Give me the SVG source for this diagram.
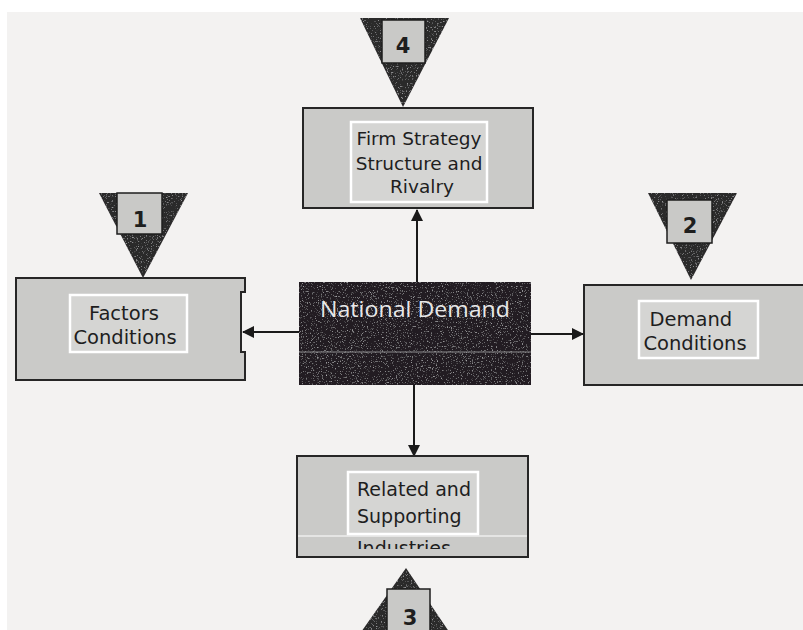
<svg xmlns="http://www.w3.org/2000/svg" width="803" height="630" viewBox="0 0 803 630">
  <defs>
    <style>
      .box { fill: #cacac8; stroke: #262626; stroke-width: 2; }
      .label { fill: #d5d5d3; stroke: #ffffff; stroke-width: 2.5; }
      .txt { font-family: "DejaVu Sans", Verdana, sans-serif; fill: #1e1e1e; }
      .tri { fill: #2b292b; }
      .sq { fill: #c9c9c7; stroke: #1e1e1e; stroke-width: 1.5; }
      .num { font-family: "DejaVu Sans", Verdana, sans-serif; font-size: 21px; font-weight: 600; fill: #1e1e1e; text-anchor: middle; }
      .conn { stroke: #1a1a1a; stroke-width: 2; fill: none; marker-end: url(#head); }
    </style>
    <marker id="head" viewBox="0 0 12 12" refX="11" refY="6" markerWidth="12" markerHeight="12" markerUnits="userSpaceOnUse" orient="auto">
      <path d="M0,0 L12,6 L0,12 Z" fill="#1a1a1a"/>
    </marker>
    <!-- sparse speckle grain for the dark printed areas -->
    <filter id="grain" x="0" y="0" width="100%" height="100%">
      <feTurbulence type="fractalNoise" baseFrequency="0.8" numOctaves="2" seed="3" result="noise"/>
      <feColorMatrix in="noise" type="matrix" values="0 0 0 0 0.6  0 0 0 0 0.6  0 0 0 0 0.62  0 0 0 2.4 -1.45" result="specks"/>
      <feComposite in="specks" in2="SourceGraphic" operator="in" result="clipped"/>
      <feMerge><feMergeNode in="SourceGraphic"/><feMergeNode in="clipped"/></feMerge>
    </filter>
    <clipPath id="cutText"><rect x="340" y="538" width="150" height="11"/></clipPath>
  </defs>

  <!-- paper -->
  <rect x="0" y="0" width="803" height="630" fill="#ffffff"/>
  <rect x="7" y="12" width="796" height="618" fill="#f3f2f1"/>

  <!-- connectors from the centre box -->
  <g id="connectors">
    <line class="conn" x1="417" y1="282" x2="417" y2="210"/>
    <line class="conn" x1="299" y1="332" x2="243" y2="332"/>
    <line class="conn" x1="531" y1="334" x2="583" y2="334"/>
    <line class="conn" x1="414" y1="385" x2="414" y2="456"/>
  </g>

  <!-- 4: firm strategy -->
  <g id="node-firm-strategy">
    <rect class="box" x="303" y="108" width="230" height="100"/>
    <rect class="label" x="351" y="122" width="136" height="80"/>
    <text class="txt" font-size="18.5" text-anchor="middle">
      <tspan x="422" y="145">Firm Strategy</tspan>
      <tspan x="422" y="170">Structure and</tspan>
      <tspan x="422" y="193">Rivalry</tspan>
    </text>
  </g>
  <g id="marker-4">
    <polygon class="tri" points="360,18 449,18 403,107" filter="url(#grain)"/>
    <rect class="sq" x="382" y="20" width="43" height="43"/>
    <text class="num" x="403" y="53">4</text>
  </g>

  <!-- 1: factor conditions -->
  <g id="node-factors">
    <path class="box" d="M16,278 H245 V292 H241 V352 H245 V380 H16 Z"/>
    <rect class="label" x="70" y="295" width="117" height="57"/>
    <text class="txt" font-size="19.5" text-anchor="middle">
      <tspan x="127" y="320">Factors</tspan>
      <tspan x="125" y="344">Conditions</tspan>
    </text>
  </g>
  <g id="marker-1">
    <polygon class="tri" points="99,193 188,193 143,278" filter="url(#grain)"/>
    <rect class="sq" x="117" y="193" width="45" height="41"/>
    <text class="num" x="140" y="227">1</text>
  </g>

  <!-- 2: demand conditions -->
  <g id="node-demand">
    <rect class="box" x="584" y="285" width="230" height="100"/>
    <rect class="label" x="639" y="301" width="119" height="57"/>
    <text class="txt" font-size="19.5" text-anchor="middle">
      <tspan x="694" y="326">Demand</tspan>
      <tspan x="695" y="350">Conditions</tspan>
    </text>
  </g>
  <g id="marker-2">
    <polygon class="tri" points="648,193 737,193 691,280" filter="url(#grain)"/>
    <rect class="sq" x="667" y="200" width="45" height="43"/>
    <text class="num" x="690" y="233">2</text>
  </g>

  <!-- centre: national demand -->
  <g id="node-national-demand">
    <rect x="299" y="282" width="232" height="103" fill="#221f23" filter="url(#grain)"/>
    <line x1="299" y1="352" x2="531" y2="352" stroke="#8a8a8c" stroke-width="1.2"/>
    <text x="415" y="317" font-family="'Open Sans', 'Noto Sans', sans-serif" font-size="22" fill="#e8e8e8" text-anchor="middle" textLength="190" lengthAdjust="spacingAndGlyphs">National Demand</text>
  </g>

  <!-- 3: related and supporting industries -->
  <g id="node-related">
    <rect class="box" x="297" y="456" width="231" height="101"/>
    <rect class="label" x="348" y="472" width="130" height="62"/>
    <text class="txt" font-size="19">
      <tspan x="357" y="496">Related and</tspan>
      <tspan x="357" y="523">Supporting</tspan>
    </text>
    <text class="txt" font-size="19" x="357" y="555" clip-path="url(#cutText)">Industries</text>
    <line x1="298" y1="536" x2="527" y2="536" stroke="#ffffff" stroke-width="1.2"/>
  </g>
  <g id="marker-3">
    <polygon class="tri" points="406,568 458,645 352,645" filter="url(#grain)"/>
    <rect class="sq" x="387" y="589" width="43" height="50"/>
    <text class="num" x="410" y="625">3</text>
  </g>
</svg>
